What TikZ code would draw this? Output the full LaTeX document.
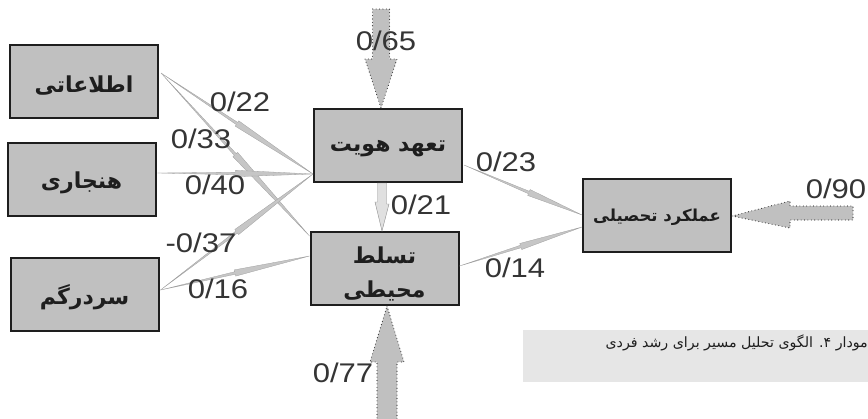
\documentclass[tikz,border=0pt]{standalone}
\usepackage{fontspec}
\usetikzlibrary{calc}
\TeXXeTstate=1
\newfontfamily\arabicfont[Script=Arabic]{DejaVu Sans}
\newfontfamily\numfont[FakeStretch=1.15]{Liberation Sans}
\definecolor{boxgray}{HTML}{C0C0C0}
\definecolor{arrowgray}{HTML}{C6C6C6}
\definecolor{edgegray}{HTML}{A0A0A0}
\definecolor{capgray}{HTML}{E6E6E6}
\definecolor{ink}{HTML}{1E1E1E}
\tikzset{
  varbox/.style={draw=ink, line width=2pt, fill=boxgray, minimum width=148pt, minimum height=73pt, inner sep=0pt, font=\arabicfont\bfseries\fontsize{22}{34}\selectfont, align=center, text=ink},
  coef/.style={font=\numfont\fontsize{27}{27}\selectfont, text=ink!90, inner sep=0pt},
  patharrow/.style={fill=arrowgray, draw=edgegray, line width=0.3pt},
  errarrow/.style={fill=boxgray, draw=black!80, line width=1.1pt, dash pattern=on 0pt off 3.4pt, line cap=round},
  innerarrow/.style={fill=black!12, draw=black!45, line width=0.4pt}
}
\newcommand\lowtext[2][-5pt]{\raisebox{#1}[\height][\depth]{#2}}
\newcommand\pathwedge[3][0.5]{%
  \path coordinate (pm) at ($(#2)!#1!(#3)$);
  \draw[patharrow] (#2) -- ($(pm)!1.3pt!90:(#3)$) -- ($(pm)!3.2pt!90:(#3)$) -- (#3)
     -- ($(pm)!3.2pt!-90:(#3)$) -- ($(pm)!1.3pt!-90:(#3)$) -- cycle;
}
\begin{document}
\begin{tikzpicture}[x=1pt,y=-1pt]
\useasboundingbox (0,0) rectangle (868,418);
% caption
\fill[capgray] (523,330) rectangle (868,382);
\node[anchor=east, inner sep=0pt, font=\arabicfont\fontsize{14.2}{17}\selectfont, text=ink] (cap) at (868,343) {\beginR مودار ۴. الگوی تحلیل مسیر برای رشد فردی\endR};
% boxes
\node[varbox] (info) at (84,81) {\lowtext{\beginR اطلاعاتی\endR}};
\node[varbox] (norm) at (81.5,179.5) {\lowtext[-3pt]{\beginR هنجاری\endR}};
\node[varbox] (conf) at (84.5,294.5) {\lowtext[-3pt]{\beginR سردرگم\endR}};
\node[varbox] (comm) at (388,145.5) {\lowtext[-3pt]{\beginR تعهد هویت\endR}};
\node[varbox] (mast) at (384.5,268.5) {\lowtext{\begin{tabular}{@{}c@{}}\beginR تسلط\endR\\\beginR محیطی\endR\end{tabular}}};
\node[varbox, font=\arabicfont\bfseries\fontsize{16.5}{20}\selectfont] (perf) at (657,215.5) {\lowtext[-2pt]{\beginR عملکرد تحصیلی\endR}};
% connector end points
\coordinate (infoO) at ([xshift=2pt,yshift=8pt]info.east);
\coordinate (normO) at ([xshift=1pt,yshift=6.5pt]norm.east);
\coordinate (confO) at ([xshift=1pt,yshift=4.5pt]conf.east);
\coordinate (commI) at ([yshift=9pt]comm.south west);
\coordinate (mastI1) at ([yshift=-5pt]mast.north west);
\coordinate (mastI2) at ([yshift=-25pt]mast.north west);
\coordinate (commO) at ([xshift=1pt,yshift=-19.5pt]comm.east);
\coordinate (mastO) at ([yshift=2.5pt]mast.east);
\coordinate (perfI1) at ([yshift=0.5pt]perf.west);
\coordinate (perfI2) at ([yshift=-11.5pt]perf.west);
% path arrows
\pathwedge{infoO}{commI}
\pathwedge{infoO}{mastI1}
\pathwedge{normO}{commI}
\pathwedge{confO}{commI}
\pathwedge{confO}{mastI2}
\pathwedge[0.55]{commO}{perfI1}
\pathwedge{mastO}{perfI2}
% comm -> mast
\coordinate (cmS) at ([xshift=-6pt]comm.south);
\coordinate (cmT) at ([xshift=-2.5pt]mast.north);
\draw[innerarrow] (cmT) -- ++(-7,-29) -- ++(2.5,0) -- ($(cmS)+(-4.5,0)$) -- ($(cmS)+(4.5,0)$) -- ++(0,21) -- ++(2.5,0) -- cycle;
% error arrows
\coordinate (e1T) at ([xshift=-7pt]comm.north);
\draw[errarrow] (e1T) -- ++(16,-49) -- ++(-7.5,0) -- ++(0,-50) -- ++(-17,0) -- ++(0,50) -- ++(-7.5,0) -- cycle;
\coordinate (e2T) at ([xshift=2.5pt]mast.south);
\draw[errarrow] (e2T) -- ++(17,56) -- ++(-7,0) -- ++(0,60) -- ++(-20,0) -- ++(0,-60) -- ++(-7,0) -- cycle;
\coordinate (e3T) at ([yshift=-0.5pt]perf.east);
\draw[errarrow] (e3T) -- ++(58,-15) -- ++(0,5) -- ++(63,0) -- ++(0,14) -- ++(-63,0) -- ++(0,8) -- cycle;
% coefficients
\node[coef] (c65) at (386,41) {0/65};
\node[coef] (c22) at (240,102) {0/22};
\node[coef] (c33) at (201,139) {0/33};
\node[coef] (c40) at (215,185) {0/40};
\node[coef] (c37) at (201,243) {-0/37};
\node[coef] (c16) at (218,289) {0/16};
\node[coef] (c23) at (506,162) {0/23};
\node[coef] (c21) at (421,205) {0/21};
\node[coef] (c14) at (515,268) {0/14};
\node[coef] (c77) at (343,373) {0/77};
\node[coef] (c90) at (836,189) {0/90};
\end{tikzpicture}
\end{document}
